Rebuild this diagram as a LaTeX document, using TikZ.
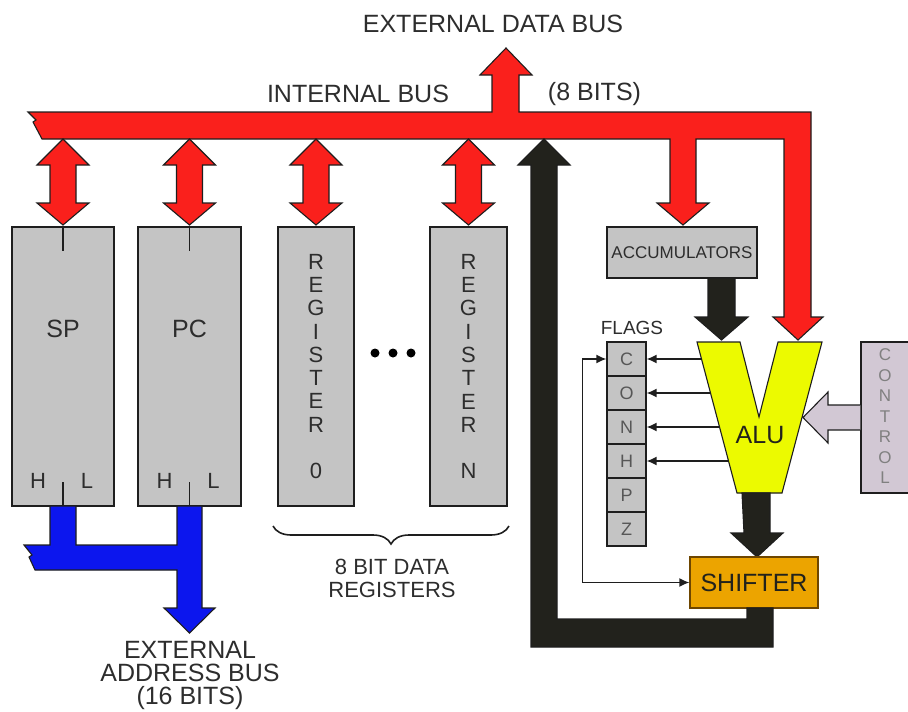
\documentclass[tikz,border=0pt]{standalone}
\usepackage{fontspec}
\setmainfont{Liberation Sans}
\usetikzlibrary{arrows.meta,decorations.pathreplacing}

\definecolor{busred}{RGB}{250,32,28}
\definecolor{busblue}{RGB}{12,22,238}
\definecolor{busblack}{RGB}{34,34,28}
\definecolor{regfill}{RGB}{196,196,196}
\definecolor{alufill}{RGB}{236,250,0}
\definecolor{shiftfill}{RGB}{236,164,0}
\definecolor{shiftedge}{RGB}{110,70,0}
\definecolor{ctrlfill}{RGB}{210,200,212}
\definecolor{edge}{RGB}{30,30,30}
\definecolor{txt}{RGB}{45,45,45}

\newcommand{\pxfont}[2]{\fontsize{#1}{#2}\selectfont}

\begin{document}
\begin{tikzpicture}[x=1pt, y=-1pt,
  bus/.style={draw=edge, line width=1.1pt},
  regbox/.style={draw=edge, line width=1.2pt, fill=regfill, inner sep=0pt, minimum height=279pt},
  txtlabel/.style={text=txt, font=\pxfont{25}{23}, align=center, inner sep=0pt},
  flagbox/.style={draw=edge, line width=1.2pt, fill=regfill, minimum width=39pt, minimum height=34pt, inner sep=0pt, text=txt!80, font=\pxfont{18}{18}},
  flagline/.style={draw=edge, line width=1.5pt, -{Latex[length=10pt,width=9pt]}}
 ]
 \useasboundingbox (0,0) rectangle (908,712);

 % Registers
 \node[regbox, minimum width=102pt] (sp)   at (63,366.5)  {};
 \node[regbox, minimum width=103pt] (pc)   at (189.5,366.5) {};
 \node[regbox, minimum width=76pt]  (reg0) at (316,366.5) {};
 \node[regbox, minimum width=77pt]  (regn) at (468.5,366.5) {};

 \foreach \r in {sp,pc} {
  \draw[edge, line width=1.2pt] (\r.north) -- ++(0,25);
  \draw[edge, line width=1.2pt] (\r.south) -- ++(0,-25);
  \node[txtlabel, font=\pxfont{22}{22}] at ([xshift=-25pt,yshift=26pt]\r.south) {H};
  \node[txtlabel, font=\pxfont{22}{22}] at ([xshift=24pt,yshift=26pt]\r.south) {L};
 }
 \node[txtlabel] at ([yshift=38pt]sp) {SP};
 \node[txtlabel] at ([yshift=38pt]pc) {PC};
 \node[txtlabel, font=\pxfont{22}{23.3}] at (reg0) {R\\E\\G\\I\\S\\T\\E\\R\\ \\0};
 \node[txtlabel, font=\pxfont{22}{23.3}] at (regn) {R\\E\\G\\I\\S\\T\\E\\R\\ \\N};
 \foreach \dx in {375,393,411} \fill[black] (\dx,353) circle (4.5pt);

 % Internal bus (8 bits)
 \draw[bus, fill=busred] (28,112) -- (492,112) -- (492,75) -- (480,75) -- (506,48)
   -- (532,75) -- (519,75) -- (519,112) -- (811,112) -- (811,317) -- (823,317)
   -- (798,340) -- (773,317) -- (784,317) -- (784,139) -- (696,139) -- (696,203)
   -- (709,203) -- (683,225) -- (657,203) -- (670,203) -- (670,139) -- (42,139)
   -- (33,122) -- (36,120) -- cycle;
 \foreach \cx in {63,189.5,316,468.5}
  \draw[bus, fill=busred] (\cx,139) -- ++(26,26) -- ++(-13,0) -- ++(0,38) -- ++(13,0)
    -- ++(-26,22) -- ++(-26,-22) -- ++(13,0) -- ++(0,-38) -- ++(-13,0) -- cycle;

 % External address bus (16 bits)
 \draw[bus, fill=busblue] (24,545) -- (50,545) -- (50,506) -- (76,506) -- (76,545)
   -- (177,545) -- (177,506) -- (202,506) -- (202,608) -- (215,608) -- (189.5,633)
   -- (164,608) -- (177,608) -- (177,570) -- (35,570) -- (29,557) -- (32,555) -- cycle;

 % Accumulators, ALU, flags, shifter
 \node[draw=edge, line width=1.2pt, fill=regfill, minimum width=150pt, minimum height=51pt,
   inner sep=0pt, text=txt, font=\pxfont{17}{17}] (acc) at (682,252.5) {ACCUMULATORS};
 \draw[bus, fill=busblack] (708,278) -- (735,278) -- (735,317) -- (748,317) -- (721.5,340)
   -- (695,317) -- (708,317) -- cycle;

 \draw[bus, fill=alufill] (697,342) -- (740,342) -- (759,417) -- (778,342) -- (822,342)
   -- (782,493) -- (737,493) -- cycle;
 \node[text=busblack, font=\pxfont{25}{25}] (alu) at (760,435) {ALU};

 \node[text=txt, font=\pxfont{19}{19}] (flagslbl) at (632,328) {FLAGS};
 \foreach \f [count=\i] in {C,O,N,H,P,Z}
  \node[flagbox] (f\f) at (626.5,325+34*\i) {\f};
 \foreach \f/\xa/\ya in {C/701.5/359,O/710.5/393,N/719.5/427,H/728.5/461} {
  \coordinate (a\f) at (\xa,\ya);
  \draw[flagline] (a\f) -- (f\f.east);
 }

 \draw[bus, fill=busblack] (742,493) -- (770,493) -- (770,533) -- (783,533) -- (757,557)
   -- (731,533) -- (744,533) -- cycle;
 \node[draw=shiftedge, fill=shiftfill, line width=1.2pt, minimum width=128pt, minimum height=51pt,
   inner sep=0pt, text=busblack, font=\pxfont{25}{25}] (shifter) at (754,582.5) {SHIFTER};
 \draw[flagline, {Latex[length=10pt,width=9pt]}-{Latex[length=10pt,width=9pt]}]
   (fC.west) -- ++(-24,0) |- (shifter.west);

 % Feedback to the internal bus
 \draw[bus, fill=busblack] (531,165) -- (518,165) -- (544,139) -- (570,165) -- (557,165)
   -- (557,619) -- (747,619) -- (747,608) -- (773,608) -- (773,647) -- (531,647) -- cycle;

 % Control (runs off the right edge)
 \node[draw=edge, fill=ctrlfill, line width=1.2pt, minimum width=60pt, minimum height=151pt,
   inner sep=0pt] (ctrl) at (891,417.5) {};
 \node[align=center, text=gray, font=\pxfont{17}{20.5}, inner sep=0pt] (ctrltxt) at (885,416.5)
   {C\\O\\N\\T\\R\\O\\L};
 \draw[bus, fill=ctrlfill] (ctrl.west |- 0,405) -- (828,405) -- (828,392) -- (803,417.5)
   -- (828,443) -- (828,430) -- (ctrl.west |- 0,430);

 % Brace under data registers
 \draw[edge, line width=1.6pt, decorate, decoration={brace, amplitude=18pt}]
   (509,526) -- (273,526);

 % Labels
 \node[txtlabel] (extdata) at (493,24) {EXTERNAL DATA BUS};
 \node[txtlabel] (intbus) at (358,94) {INTERNAL BUS};
 \node[txtlabel] (bits8) at (594.5,94) {(8 BITS)};
 \node[txtlabel] (extaddr) at (190,675) {EXTERNAL\\ADDRESS BUS\\(16 BITS)};
 \node[txtlabel, font=\pxfont{22}{23}] (datareg) at (392,578) {8 BIT DATA\\REGISTERS};
\end{tikzpicture}
\end{document}
